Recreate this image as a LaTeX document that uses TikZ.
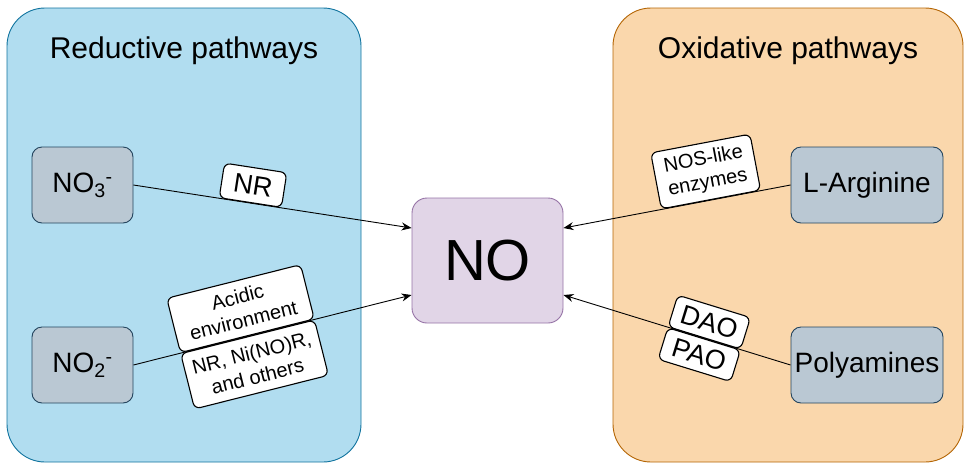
\documentclass[tikz,border=0pt]{standalone}
\usepackage{fontspec}
\setmainfont{Liberation Sans}
\usetikzlibrary{arrows.meta}

\definecolor{bluefill}{HTML}{B1DDF0}
\definecolor{blueline}{HTML}{10739E}
\definecolor{orangefill}{HTML}{FAD7AC}
\definecolor{orangeline}{HTML}{B46504}
\definecolor{greyfill}{HTML}{BAC8D3}
\definecolor{greyline}{HTML}{23445D}
\definecolor{purplefill}{HTML}{E1D5E7}
\definecolor{purpleline}{HTML}{9673A6}

\tikzset{
    panel/.style={rounded corners=38pt, line width=0.9pt},
    title/.style={font=\fontsize{30}{35}\selectfont},
    species/.style={draw=greyline, fill=greyfill, rounded corners=10pt, line width=0.9pt,
        minimum width=101pt, minimum height=76pt, inner sep=0pt, font=\fontsize{28}{33}\selectfont},
    enzyme/.style={draw=black, fill=white, rounded corners=6pt, line width=1.1pt,
        sloped, inner sep=1pt, align=center},
    flow/.style={-{Stealth[length=10pt,width=8pt]}, line width=0.9pt}
}

\begin{document}
\begin{tikzpicture}[x=1pt, y=-1pt]

    \useasboundingbox (0,0) rectangle (966,464);

    % The two pathway panels
    \draw[panel, draw=blueline, fill=bluefill] (7,8) rectangle (361,462);
    \draw[panel, draw=orangeline, fill=orangefill] (613,8) rectangle (963,462);
    \node[title] (redtitle) at (184,51) {Reductive pathways};
    \node[title] (oxtitle)  at (788,51) {Oxidative pathways};

    % Sources and the product
    \node[species] (no3)  at (82.5,185) {NO\textsubscript{3}\textsuperscript{-}};
    \node[species] (no2)  at (82.5,365) {NO\textsubscript{2}\textsuperscript{-}};
    \node[species, minimum width=152pt] (arg)  at (867,185) {L-Arginine};
    \node[species, minimum width=152pt] (poly) at (867,365) {Polyamines};
    \node[draw=purpleline, fill=purplefill, rounded corners=15pt, line width=0.9pt,
        minimum width=151pt, minimum height=125pt, font=\fontsize{58}{64}\selectfont]
        (no) at (487.5,260.5) {NO};

    % Reductive arrows
    \draw[flow] (no3.east) -- node[enzyme, above, pos=0.42, minimum width=63pt, minimum height=35pt,
        font=\fontsize{27}{32}\selectfont] (nr) {NR} ([yshift=32.5pt]no.west);
    \draw[flow] (no2.east) --
        node[enzyme, above, pos=0.41, minimum width=138pt, minimum height=56pt,
            font=\fontsize{20}{24}\selectfont] (acid) {Acidic\\environment}
        node[enzyme, below, pos=0.41, minimum width=138pt, minimum height=57pt,
            font=\fontsize{20}{24}\selectfont] (nino) {NR, Ni(NO)R,\\and others}
        ([yshift=-34.5pt]no.west);

    % Oxidative arrows
    \draw[flow] (arg.west) -- node[enzyme, above, pos=0.35, minimum width=101pt, minimum height=57pt,
        font=\fontsize{20}{24}\selectfont] (nos) {NOS-like\\enzymes} ([yshift=32.5pt]no.east);
    \draw[flow] (poly.west) --
        node[enzyme, above, pos=0.38, minimum width=76pt, minimum height=33pt,
            font=\fontsize{27}{32}\selectfont] (dao) {DAO}
        node[enzyme, below, pos=0.38, minimum width=76pt, minimum height=33pt,
            font=\fontsize{27}{32}\selectfont] (pao) {PAO}
        ([yshift=-34.5pt]no.east);

\end{tikzpicture}
\end{document}
